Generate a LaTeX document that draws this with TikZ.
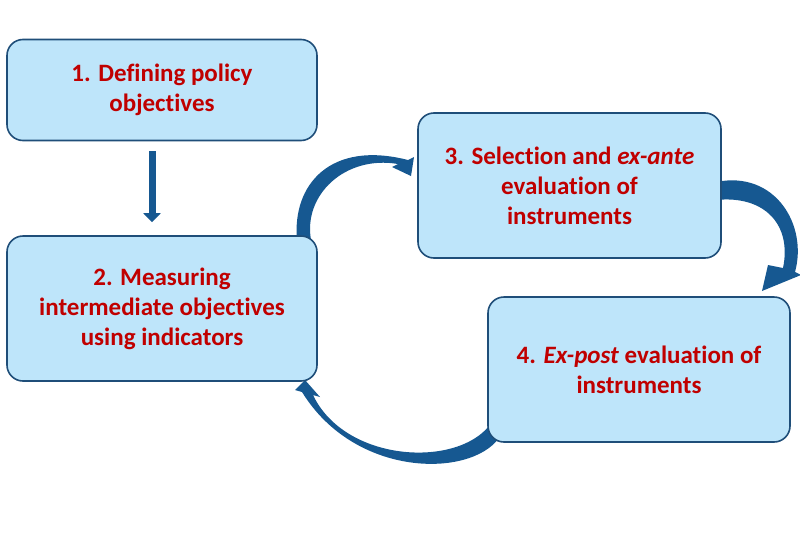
\documentclass[tikz,border=0pt]{standalone}
\usepackage{fontspec}
\setmainfont{Carlito}[Ligatures=NoCommon]
\usetikzlibrary{arrows.meta,calc}
\definecolor{boxfill}{RGB}{190,229,250}
\definecolor{boxline}{RGB}{31,78,121}
\definecolor{arrowc}{RGB}{22,88,145}
\definecolor{txtred}{RGB}{192,0,0}
\begin{document}
\begin{tikzpicture}[x=1pt,y=-1pt,
  box/.style={draw=boxline, line width=1.6pt, fill=boxfill, rounded corners=16pt,
    align=center, text=txtred, font=\fontsize{25}{30}\selectfont\bfseries, inner sep=0pt},
  bandarrow/.style={fill=arrowc},
  straightarrow/.style={draw=arrowc, line width=7pt, -{Triangle[width=17pt,length=9pt]}}]
\useasboundingbox (0,0) rectangle (800,533);
\fill[white] (0,0) rectangle (800,533);

% curved band arrows (drawn under the boxes)
\fill[bandarrow] (297,240) .. controls (292,185) and (330,140) .. (408,160)
  -- (414,157) -- (411,176) -- (392,167) -- (398,164)
  .. controls (345,155) and (303,195) .. (311,240) -- cycle;
\fill[bandarrow] (716,182) .. controls (775,170) and (808,225) .. (795,272)
  -- (801,275) -- (762,291) -- (768,265) -- (783,268)
  .. controls (792,225) and (765,195) .. (716,200) -- cycle;
\fill[bandarrow] (499,438) .. controls (470,478) and (355,478) .. (302,392)
  -- (295,390) -- (305,380) -- (320,397) -- (313,395)
  .. controls (345,462) and (455,468) .. (489,426) -- cycle;

\node[box, minimum width=310pt, minimum height=101pt] (b1) at (162,90)
  {1. Defining policy\\objectives};
\node[box, minimum width=310pt, minimum height=145pt] (b2) at (162,308.5)
  {2. Measuring\\intermediate objectives\\using indicators};
\node[box, minimum width=303pt, minimum height=145pt] (b3) at (569.5,185.5)
  {3. Selection and \textit{ex-ante}\\evaluation of\\instruments};
\node[box, minimum width=302pt, minimum height=145pt] (b4) at (639,369.5)
  {4. \textit{Ex-post} evaluation of\\instruments};

\draw[straightarrow] ($(b1.south)+(-10,10)$) -- ($(b2.north)+(-10,-13)$);
\end{tikzpicture}
\end{document}
